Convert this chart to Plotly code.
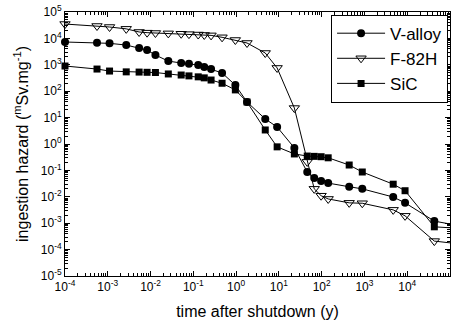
import plotly.graph_objects as go

# ---- data ----
time_y = [1e-4, 5.6e-4, 1.1e-3, 2.7e-3, 5.4e-3, 8.3e-3, 1.3e-2, 0.026, 0.052, 0.079,
          0.13, 0.18, 0.26, 0.47, 0.96, 1.8, 4.8, 9.1, 23, 46, 67, 97, 142, 440,
          890, 4700, 8900, 4.3e4, 1e5]

v_alloy = [7300, 6900, 6500, 5600, 4300, 3600, 2350, 1380, 1170, 1100,
           980, 830, 690, 490, 170, 39, 8.9, 4.4, 0.71, 0.087, 0.051, 0.040, 0.033, 0.024,
           0.020, 0.0098, 0.0059, 0.0012, 9.3e-4]

f82h = [35000, 29500, 27000, 23000, 17500, 16500, 16000, 15500, 15000, 14500,
        14000, 13500, 13000, 11000, 8700, 6700, 2800, 760, 23, 0.21, 0.020, 0.011, 0.0083, 0.0059,
        0.0057, 0.0032, 0.0019, 2.1e-4, 1.8e-4]

sic = [900, 690, 580, 540, 530, 520, 510, 450, 410, 380,
       350, 320, 265, 200, 112, 39, 3.4, 0.78, 0.42, 0.35, 0.34, 0.33, 0.30, 0.16,
       0.087, 0.030, 0.017, 7.3e-4, 6.7e-4]

series_names = ["V-alloy", "F-82H", "SiC"]

x_exps = list(range(-4, 6))
y_exps = list(range(-5, 6))
x_ticktext = [f"10<sup>{e}</sup>" for e in x_exps]
y_ticktext = [f"10<sup>{e}</sup>" for e in y_exps]

FONT = "Liberation Sans, Arial, sans-serif"

def minor_vals(exps):
    out = []
    for e in exps[:-1]:
        for m in range(2, 10):
            out.append(m * 10.0 ** e)
    return out

markers = [
    dict(symbol="circle", size=8, color="black"),
    dict(symbol="triangle-down-open", size=9, color="black", line=dict(width=1)),
    dict(symbol="square", size=7, color="black"),
]

fig = go.Figure()
for name, ys, mk in zip(series_names, [v_alloy, f82h, sic], markers):
    # marked points (the last point sits on the right edge, where only the line is seen)
    fig.add_trace(go.Scatter(
        x=time_y[:-1], y=ys[:-1], name=name, mode="lines+markers",
        line=dict(color="black", width=1), marker=mk, cliponaxis=False))
    fig.add_trace(go.Scatter(
        x=time_y[-2:], y=ys[-2:], mode="lines", showlegend=False,
        line=dict(color="black", width=1), hoverinfo="skip"))

axis_common = dict(
    type="log", showgrid=False, zeroline=False,
    showline=True, linecolor="black", linewidth=1, mirror="allticks",
    ticks="inside", ticklen=5, tickwidth=1, tickcolor="black",
    tickfont=dict(family=FONT, size=12, color="black"),
)

fig.update_xaxes(
    **axis_common, range=[-4, 5],
    tickmode="array", tickvals=[10.0 ** e for e in x_exps], ticktext=x_ticktext,
    minor=dict(ticks="inside", ticklen=3, tickcolor="black", tickmode="array",
               tickvals=minor_vals(x_exps)),
    title=dict(text="time after shutdown (y)", font=dict(family=FONT, size=16, color="black"),
               standoff=12),
)
fig.update_yaxes(
    **axis_common, range=[-5, 5],
    tickmode="array", tickvals=[10.0 ** e for e in y_exps], ticktext=y_ticktext,
    minor=dict(ticks="inside", ticklen=3, tickcolor="black", tickmode="array",
               tickvals=minor_vals(y_exps)),
    title=dict(text="ingestion hazard (<sup>m</sup>Sv.mg<sup>-1</sup>)",
               font=dict(family=FONT, size=16, color="black"), standoff=8),
)

fig.update_layout(
    width=456, height=331,
    margin=dict(l=65, r=6, t=12, b=55, autoexpand=False),
    paper_bgcolor="white", plot_bgcolor="white",
    font=dict(family=FONT, color="black"),
    legend=dict(
        x=0.995, y=0.99, xanchor="right", yanchor="top",
        bordercolor="black", borderwidth=1, bgcolor="white",
        font=dict(family=FONT, size=17, color="black"),
        itemwidth=48,
    ),
)

fig.write_html("out.html")
